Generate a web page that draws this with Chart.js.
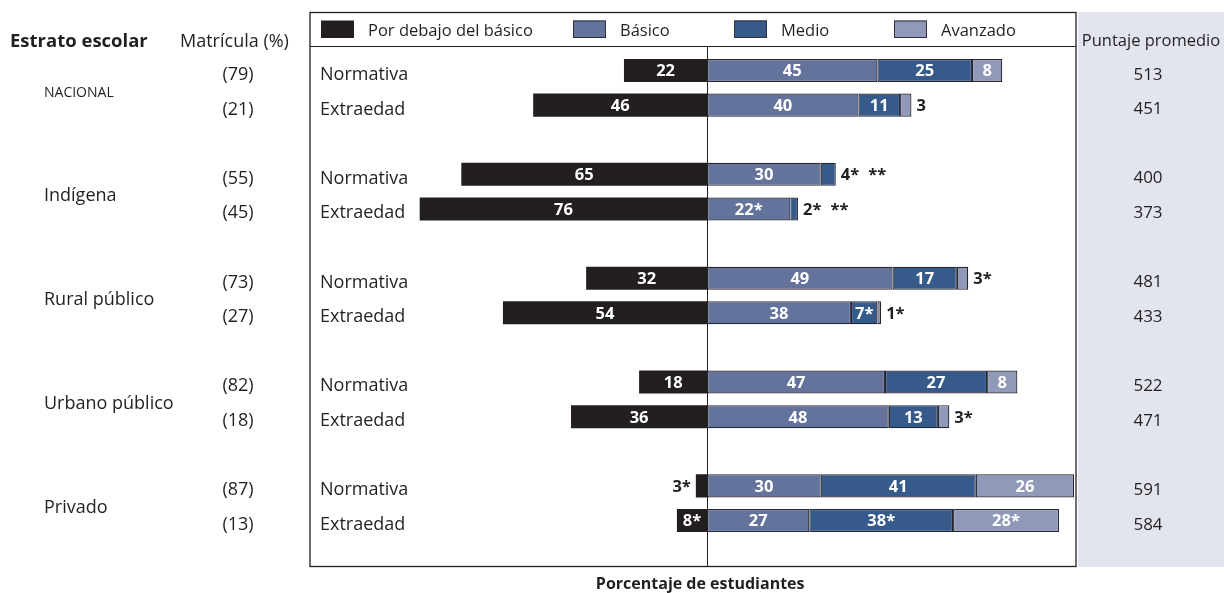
<!DOCTYPE html>
<html lang="es">
<head>
<meta charset="utf-8">
<title>Niveles de desempeño por estrato escolar y modalidad</title>
<script src="https://cdn.jsdelivr.net/npm/chart.js@4/dist/chart.umd.min.js"></script>
<style>
  html, body { margin: 0; padding: 0; background: #ffffff; }
  #wrap { position: relative; width: 1224px; height: 593px; }
</style>
</head>
<body>
<div id="wrap"><canvas id="chart" width="1224" height="593"></canvas></div>
<script>
// ---- Data ----
const estratos = ['NACIONAL', 'Indígena', 'Rural público', 'Urbano público', 'Privado'];
const modalidades = ['Normativa', 'Extraedad'];
const matricula = [79, 21, 55, 45, 73, 27, 82, 18, 87, 13];
const puntaje = [513, 451, 400, 373, 481, 433, 522, 471, 591, 584];

const porDebajo = [22, 46, 65, 76, 32, 54, 18, 36, 3, 8];
const basico    = [45, 40, 30, 22, 49, 38, 47, 48, 30, 27];
const medio     = [25, 11, 4, 2, 17, 7, 27, 13, 41, 38];
const avanzado  = [8, 3, null, null, 3, 1, 8, 3, 26, 28];

const porDebajoLabels = ['22', '46', '65', '76', '32', '54', '18', '36', '3*', '8*'];
const basicoLabels    = ['45', '40', '30', '22*', '49', '38', '47', '48', '30', '27'];
const medioLabels     = ['25', '11', '4*', '2*', '17', '7*', '27', '13', '41', '38*'];
const avanzadoLabels  = ['8', '3', '**', '**', '3*', '1*', '8', '3*', '26', '28*'];

const nivelNames = ['Por debajo del básico', 'Básico', 'Medio', 'Avanzado'];
const nivelColors = ['#231f20', '#64739c', '#365a8a', '#9199b9'];

// ---- Layout: two bars per stratum, one empty slot between strata ----
const slots = [];
estratos.forEach((e, g) => {
  modalidades.forEach((m, k) => slots.push(g * 2 + k));
  if (g < estratos.length - 1) slots.push(null);
});
const toSlots = arr => slots.map(i => (i === null ? null : arr[i]));
const slotLabels = slots.map(i => (i === null ? '' : modalidades[i % 2]));

const FONT = '"Open Sans", "DejaVu Sans", sans-serif';
const INK = '#231f20';
const BOX_TOP = 12.5, LEGEND_LINE = 46.5, BOX_BOTTOM = 566.5;

function textAt(ctx, str, x, yCenter, size, weight, align, color) {
  ctx.font = `${weight} ${size}px ${FONT}`;
  ctx.textAlign = align;
  ctx.textBaseline = 'alphabetic';
  ctx.fillStyle = color || INK;
  ctx.fillText(str, x, yCenter + size * 0.357);
}

// Frame, gray score panel, legend row and side columns
const tablePlugin = {
  id: 'tablePlugin',
  beforeDraw(chart) {
    const { ctx, chartArea } = chart;
    const w = chart.width;
    ctx.save();
    ctx.fillStyle = '#e3e5ee';
    ctx.fillRect(chartArea.right + 2, BOX_TOP - 0.5, w - chartArea.right - 2, BOX_BOTTOM - BOX_TOP + 1);
    ctx.restore();
  },
  afterDatasetsDraw(chart) {
    const { ctx, chartArea, scales } = chart;
    const x0 = scales.x.getPixelForValue(0);
    ctx.save();
    ctx.strokeStyle = INK;
    ctx.lineWidth = 1.3;
    ctx.strokeRect(chartArea.left, BOX_TOP, chartArea.right - chartArea.left, BOX_BOTTOM - BOX_TOP);
    ctx.lineWidth = 1;
    ctx.beginPath();
    ctx.moveTo(chartArea.left, LEGEND_LINE);
    ctx.lineTo(chartArea.right, LEGEND_LINE);
    ctx.moveTo(Math.round(x0) + 0.5, LEGEND_LINE);
    ctx.lineTo(Math.round(x0) + 0.5, BOX_BOTTOM);
    ctx.stroke();

    // legend
    const legendX = [321, 573, 734, 894];
    nivelNames.forEach((n, i) => {
      ctx.fillStyle = nivelColors[i];
      ctx.fillRect(legendX[i], 20.5, 33, 17.5);
      if (i > 0) {
        ctx.strokeStyle = '#2e2e3c';
        ctx.lineWidth = 1;
        ctx.strokeRect(legendX[i] + 0.5, 21, 32, 16.5);
      }
      textAt(ctx, n, legendX[i] + 47, 30.5, 16.5, 'normal', 'left');
    });

    // headers
    textAt(ctx, 'Estrato escolar', 10, 40.5, 18.5, 'bold', 'left');
    textAt(ctx, 'Matrícula (%)', 180, 40.5, 18, 'normal', 'left');
    textAt(ctx, 'Puntaje promedio', 1151, 40.5, 16.5, 'normal', 'center');
    textAt(ctx, 'Porcentaje de estudiantes', x0 - 7, 583, 16, 'bold', 'center');

    // rows
    const yScale = scales.y;
    slots.forEach((i, s) => {
      if (i === null) return;
      const y = yScale.getPixelForValue(s);
      textAt(ctx, modalidades[i % 2], chartArea.left + 10, y + 3, 18, 'normal', 'left');
      textAt(ctx, '(' + matricula[i] + ')', 238, y + 3, 18, 'normal', 'center');
      textAt(ctx, String(puntaje[i]), 1148, y + 3, 17, 'normal', 'center');
      if (i % 2 === 0) {
        const yMid = (y + yScale.getPixelForValue(s + 1)) / 2 + 3;
        const g = i / 2;
        if (g === 0) textAt(ctx, estratos[g], 44, yMid + 1, 14, 'normal', 'left');
        else textAt(ctx, estratos[g], 44, yMid, 18, 'normal', 'left');
      }
    });
    ctx.restore();
  }
};

// Value labels: white inside the segment when it fits, otherwise black beside the bar
const valuePlugin = {
  id: 'valuePlugin',
  afterDatasetsDraw(chart) {
    const { ctx } = chart;
    const labelSets = [porDebajoLabels, basicoLabels, medioLabels, avanzadoLabels];
    const SZ = 16.5;
    ctx.save();
    slots.forEach((i, s) => {
      if (i === null) return;
      ctx.font = `bold ${SZ}px ${FONT}`;
      // left side
      const el0 = chart.getDatasetMeta(0).data[s];
      const t0 = labelSets[0][i];
      const w0 = ctx.measureText(t0).width;
      const seg0 = Math.abs(el0.base - el0.x);
      if (w0 + 6 <= seg0) textAt(ctx, t0, (el0.x + el0.base) / 2, el0.y, SZ, 'bold', 'center', '#ffffff');
      else textAt(ctx, t0, Math.min(el0.x, el0.base) - 5, el0.y, SZ, 'bold', 'right');
      // right side
      let end = el0.base;
      for (let d = 1; d < 4; d++) {
        const el = chart.getDatasetMeta(d).data[s];
        if (el && isFinite(el.x) && chart.data.datasets[d].data[s] !== null) end = Math.max(end, el.x);
      }
      let cursor = end + 5;
      const y = el0.y;
      for (let d = 1; d < 4; d++) {
        const t = labelSets[d][i];
        const v = chart.data.datasets[d].data[s];
        ctx.font = `bold ${SZ}px ${FONT}`;
        const tw = ctx.measureText(t).width;
        const el = chart.getDatasetMeta(d).data[s];
        if (v !== null && el && tw + 6 <= Math.abs(el.x - el.base)) {
          textAt(ctx, t, (el.x + el.base) / 2, y, SZ, 'bold', 'center', '#ffffff');
        } else {
          textAt(ctx, t, cursor, y, SZ, 'bold', 'left');
          cursor += tw + 9;
        }
      }
    });
    ctx.restore();
  }
};

const datasets = [
  { label: nivelNames[0], data: toSlots(porDebajo).map(v => (v === null ? null : -v)),
    backgroundColor: nivelColors[0] },
  { label: nivelNames[1], data: toSlots(basico), backgroundColor: nivelColors[1] },
  { label: nivelNames[2], data: toSlots(medio), backgroundColor: nivelColors[2] },
  { label: nivelNames[3], data: toSlots(avanzado), backgroundColor: nivelColors[3] }
].map((d, k) => Object.assign({
  borderColor: '#262634',
  borderWidth: k === 0 ? 0 : 1.2,
  borderSkipped: false,
  categoryPercentage: 1,
  barPercentage: 0.665
}, d));

new Chart(document.getElementById('chart'), {
  type: 'bar',
  data: { labels: slotLabels, datasets },
  options: {
    indexAxis: 'y',
    responsive: false,
    animation: false,
    layout: { padding: { left: 310, right: 148, top: 53.2, bottom: 593 - 537.8 } },
    plugins: { legend: { display: false }, tooltip: { enabled: false } },
    scales: {
      x: { stacked: true, min: -105, max: 97.5, display: false, grid: { display: false } },
      y: { stacked: true, display: false, grid: { display: false } }
    }
  },
  plugins: [tablePlugin, valuePlugin]
});
</script>
</body>
</html>
